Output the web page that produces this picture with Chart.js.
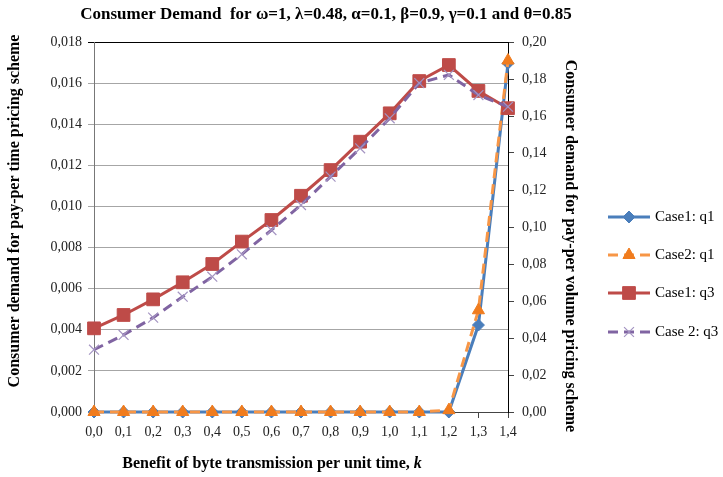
<!DOCTYPE html>
<html>
<head>
<meta charset="utf-8">
<script src="https://cdn.jsdelivr.net/npm/chart.js@4"></script>
<style>
  html, body { margin: 0; padding: 0; background: #fff; }
  #wrap { width: 723px; height: 477px; }
</style>
</head>
<body>
<div id="wrap"><canvas id="chart" width="723" height="477"></canvas></div>
<script>
const kLabels = ["0,0", "0,1", "0,2", "0,3", "0,4", "0,5", "0,6", "0,7", "0,8", "0,9", "1,0", "1,1", "1,2", "1,3", "1,4"];

// right axis (pay-per volume)
const case1Q1 = [0, 0, 0, 0, 0, 0, 0, 0, 0, 0, 0, 0, 0, 0.047, 0.1885];
const case2Q1 = [0, 0, 0, 0, 0, 0, 0, 0, 0, 0, 0, 0, 0.001, 0.055, 0.19];

// left axis (pay-per time)
const case1Q3 = [0.00407, 0.00472, 0.00548, 0.00631, 0.0072, 0.00829, 0.00934, 0.01052, 0.01177, 0.01315, 0.01453, 0.0161, 0.01688, 0.01562, 0.01478];
const case2Q3 = [0.00303, 0.00375, 0.00459, 0.00561, 0.00658, 0.00767, 0.00885, 0.01007, 0.01145, 0.01283, 0.01429, 0.016, 0.0164, 0.01542, 0.01485];

const chartTitle = "Consumer Demand  for ω=1, λ=0.48, α=0.1, β=0.9, γ=0.1 and θ=0.85";
const xTitle = "Benefit of byte transmission per unit time, ";
const xTitleVar = "k";
const yTitle = "Consumer demand for pay-per time pricing scheme";
const y2Title = "Consumer demand for pay-per volume pricing scheme";

const serif = "'Liberation Serif', 'DejaVu Serif', serif";

// titles are placed like the Excel original (not centred on the plot)
const titlesPlugin = {
    id: "titles",
    afterDraw(chart) {
        const ctx = chart.ctx;
        ctx.save();
        ctx.fillStyle = "#000";
        ctx.textAlign = "center";
        ctx.textBaseline = "middle";
        ctx.font = "bold 17px " + serif;
        ctx.fillText(chartTitle, 326, 15);

        ctx.font = "bold 16px " + serif;
        const w1 = ctx.measureText(xTitle).width;
        ctx.font = "italic bold 16px " + serif;
        const w2 = ctx.measureText(xTitleVar).width;
        const x0 = 272 - (w1 + w2) / 2;
        ctx.textAlign = "left";
        ctx.font = "bold 16px " + serif;
        ctx.fillText(xTitle, x0, 464);
        ctx.font = "italic bold 16px " + serif;
        ctx.fillText(xTitleVar, x0 + w1, 464);

        ctx.textAlign = "center";
        ctx.font = "bold 16px " + serif;
        ctx.save();
        ctx.translate(15, 211);
        ctx.rotate(-Math.PI / 2);
        ctx.fillText(yTitle, 0, 0);
        ctx.restore();

        ctx.save();
        ctx.translate(570, 246);
        ctx.rotate(Math.PI / 2);
        ctx.fillText(y2Title, 0, 0);
        ctx.restore();
        ctx.restore();
    }
};

const legendPlugin = {
    id: "sideLegend",
    afterDraw(chart) {
        const ctx = chart.ctx;
        const rows = [217, 255, 293, 332];
        chart.data.datasets.forEach((ds, i) => {
            const y = rows[i];
            ctx.save();
            ctx.strokeStyle = ds.borderColor;
            ctx.lineWidth = ds.borderWidth;
            ctx.setLineDash(ds.borderDash || []);
            ctx.beginPath();
            ctx.moveTo(608, y);
            ctx.lineTo(650, y);
            ctx.stroke();
            ctx.setLineDash([]);
            ctx.fillStyle = ds.pointBackgroundColor;
            ctx.strokeStyle = ds.pointBorderColor;
            ctx.lineWidth = ds.pointBorderWidth;
            Chart.helpers.drawPoint(ctx, {
                pointStyle: ds.pointStyle,
                radius: ds.pointRadius,
                borderWidth: ds.pointBorderWidth,
                rotation: 0
            }, 629, y);
            ctx.fillStyle = "#000";
            ctx.font = "15px " + serif;
            ctx.textBaseline = "middle";
            ctx.fillText(ds.label, 655, y);
            ctx.restore();
        });
    }
};

new Chart(document.getElementById("chart"), {
    type: "line",
    plugins: [titlesPlugin, legendPlugin],
    data: {
        labels: kLabels,
        datasets: [
            {
                label: "Case1: q1",
                data: case1Q1,
                yAxisID: "y2",
                borderColor: "#4A7EBB",
                borderWidth: 3,
                pointStyle: "rectRot",
                pointRadius: 6,
                pointBackgroundColor: "#4A7EBB",
                pointBorderColor: "#4A7EBB",
                pointBorderWidth: 1,
                clip: false,
                order: 4
            },
            {
                label: "Case2: q1",
                data: case2Q1,
                yAxisID: "y2",
                borderColor: "#F79646",
                borderWidth: 3,
                borderDash: [10, 6],
                pointStyle: "triangle",
                pointRadius: 7,
                pointBackgroundColor: "#F07C1E",
                pointBorderColor: "#F07C1E",
                pointBorderWidth: 1,
                clip: false,
                order: 3
            },
            {
                label: "Case1: q3",
                data: case1Q3,
                yAxisID: "y",
                borderColor: "#BE4B48",
                borderWidth: 3,
                pointStyle: "rect",
                pointRadius: 9,
                pointBackgroundColor: "#BE4B48",
                pointBorderColor: "#BE4B48",
                pointBorderWidth: 1,
                clip: false,
                order: 2
            },
            {
                label: "Case 2: q3",
                data: case2Q3,
                yAxisID: "y",
                borderColor: "#8064A2",
                borderWidth: 3,
                borderDash: [10, 6],
                pointStyle: "crossRot",
                pointRadius: 7,
                pointBackgroundColor: "#A494C2",
                pointBorderColor: "#A494C2",
                pointBorderWidth: 1.2,
                clip: false,
                order: 1
            }
        ]
    },
    options: {
        animation: false,
        responsive: false,
        layout: {
            padding: { left: 0, right: 138, top: 42, bottom: 0 }
        },
        scales: {
            x: {
                offset: false,
                grid: {
                    drawOnChartArea: false,
                    tickLength: 6,
                    color: "#444"
                },
                border: { color: "#444" },
                ticks: {
                    color: "#222",
                    font: { family: serif, size: 14 },
                    maxRotation: 0,
                    autoSkip: false,
                    padding: 6
                },
                afterFit(scale) { scale.height = 65; }
            },
            y: {
                position: "left",
                min: 0,
                max: 0.018,
                grid: {
                    tickLength: 6,
                    color: (c) => (c.tick && c.tick.value >= 0.018 ? "#000" : "#a6a6a6")
                },
                border: { color: "#777" },
                ticks: {
                    stepSize: 0.002,
                    color: "#222",
                    font: { family: serif, size: 14 },
                    padding: 6,
                    callback: (v) => v.toFixed(3).replace(".", ",")
                },
                afterFit(scale) { scale.width = 94; }
            },
            y2: {
                position: "right",
                min: 0,
                max: 0.2,
                grid: {
                    drawOnChartArea: false,
                    tickLength: 6,
                    color: "#444"
                },
                border: { color: "#000" },
                ticks: {
                    stepSize: 0.02,
                    color: "#222",
                    font: { family: serif, size: 14 },
                    padding: 8,
                    callback: (v) => v.toFixed(2).replace(".", ",")
                },
                afterFit(scale) { scale.width = 77; }
            }
        },
        plugins: {
            legend: { display: false },
            tooltip: { enabled: false },
            title: { display: false }
        }
    }
});
</script>
</body>
</html>
